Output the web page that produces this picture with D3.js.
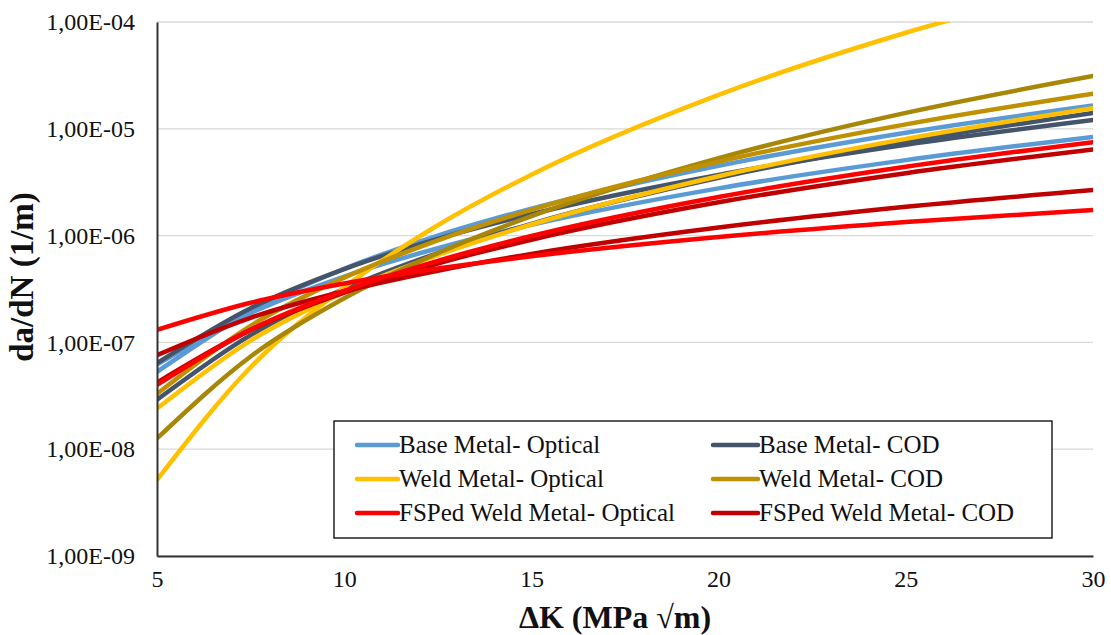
<!DOCTYPE html>
<html>
<head>
<meta charset="utf-8">
<script src="https://cdn.jsdelivr.net/npm/d3@7"></script>
<style>
  html, body { margin: 0; padding: 0; background: #fff; }
  svg { display: block; }
  text { font-family: "Times New Roman", "Liberation Serif", serif; fill: #111; }
</style>
</head>
<body>
<svg id="chart" width="1111" height="635"></svg>
<script>
// Stress-intensity range ΔK (MPa √m) at which each curve is sampled
const deltaK = [5, 7.5, 10, 12.5, 15, 20, 25, 30];

// Crack growth rate da/dN (1/m), two fits per material / measuring method
const baseOptical1  = [5.3e-8, 1.94e-7, 4.89e-7, 1.00e-6, 1.79e-6, 4.50e-6, 9.20e-6, 1.65e-5];
const baseOptical2  = [6.2e-8, 1.88e-7, 4.14e-7, 7.62e-7, 1.26e-6, 2.77e-6, 5.09e-6, 8.40e-6];
const baseCOD1      = [6.4e-8, 2.09e-7, 4.86e-7, 9.33e-7, 1.59e-6, 3.70e-6, 7.10e-6, 1.21e-5];
const baseCOD2      = [2.9e-8, 1.17e-7, 3.17e-7, 6.86e-7, 1.29e-6, 3.48e-6, 7.52e-6, 1.41e-5];
const weldOptical1  = [5.15e-9, 5.85e-8, 3.27e-7, 1.25e-6, 3.72e-6, 2.08e-5, 7.93e-5, 2.36e-4];
const weldOptical2  = [2.4e-8, 1.04e-7, 2.94e-7, 6.58e-7, 1.27e-6, 3.60e-6, 8.05e-6, 1.56e-5];
const weldCOD1      = [1.26e-8, 7.38e-8, 2.59e-7, 6.85e-7, 1.52e-6, 5.32e-6, 1.41e-5, 3.12e-5];
const weldCOD2      = [3.3e-8, 1.43e-7, 4.04e-7, 9.02e-7, 1.74e-6, 4.92e-6, 1.10e-5, 2.13e-5];
const fspCOD1       = [4.2e-8, 1.31e-7, 2.93e-7, 5.48e-7, 9.15e-7, 2.05e-6, 3.84e-6, 6.40e-6];
const fspCOD2       = [7.6e-8, 1.70e-7, 3.01e-7, 4.69e-7, 6.74e-7, 1.19e-6, 1.86e-6, 2.67e-6];
const fspOptical1   = [4.0e-8, 1.31e-7, 3.03e-7, 5.81e-7, 9.91e-7, 2.30e-6, 4.41e-6, 7.50e-6];
const fspOptical2   = [1.31e-7, 2.35e-7, 3.56e-7, 4.92e-7, 6.40e-7, 9.70e-7, 1.34e-6, 1.74e-6];

// Legend entries (in legend order) and axis ticks
const legendLabels = [
  "Base Metal- Optical", "Base Metal- COD",
  "Weld Metal- Optical", "Weld Metal- COD",
  "FSPed Weld Metal- Optical", "FSPed Weld Metal- COD"
];
const xTicks = [5, 10, 15, 20, 25, 30];
const yTicks = [1e-9, 1e-8, 1e-7, 1e-6, 1e-5, 1e-4];

const colors = {
  baseOptical: "#5B9BD5",
  baseCOD: "#44546A",
  weldOptical: "#FFC000",
  weldCOD: "#BF9000",
  weldCODDark: "#A88708",
  fspOptical: "#FF0000",
  fspCOD: "#C00000"
};

const curves = [
  { values: baseOptical1, color: colors.baseOptical },
  { values: baseOptical2, color: colors.baseOptical },
  { values: baseCOD1, color: colors.baseCOD },
  { values: baseCOD2, color: colors.baseCOD },
  { values: weldOptical1, color: colors.weldOptical },
  { values: weldOptical2, color: colors.weldOptical },
  { values: weldCOD1, color: colors.weldCODDark },
  { values: weldCOD2, color: colors.weldCOD },
  { values: fspCOD1, color: colors.fspCOD },
  { values: fspCOD2, color: colors.fspCOD },
  { values: fspOptical1, color: colors.fspOptical },
  { values: fspOptical2, color: colors.fspOptical }
];
const legendColors = [colors.baseOptical, colors.baseCOD, colors.weldOptical,
                      colors.weldCOD, colors.fspOptical, colors.fspCOD];

const serif = '"Times New Roman", "Liberation Serif", serif';
const svg = d3.select("#chart");
const plot = { left: 157, right: 1093, top: 22, bottom: 556 };

const x = d3.scaleLinear().domain([5, 30]).range([plot.left, plot.right]);
const y = d3.scaleLog().domain([1e-9, 1e-4]).range([plot.bottom, plot.top]);

const expFormat = v => {
  const e = Math.round(Math.log10(v));
  return "1,00E" + (e < 0 ? "-" : "+") + String(Math.abs(e)).padStart(2, "0");
};

// horizontal gridlines
svg.append("g")
  .selectAll("line")
  .data(yTicks)
  .join("line")
  .attr("x1", plot.left).attr("x2", plot.right)
  .attr("y1", d => y(d)).attr("y2", d => y(d))
  .attr("stroke", "#d9d9d9").attr("stroke-width", 1.3);

// clip region for the curves
svg.append("clipPath").attr("id", "plotClip")
  .append("rect")
  .attr("x", plot.left).attr("y", plot.top)
  .attr("width", plot.right - plot.left).attr("height", plot.bottom - plot.top);

const line = d3.line()
  .x((d, i) => x(deltaK[i]))
  .y(d => y(d))
  .curve(d3.curveMonotoneX);

svg.append("g").attr("clip-path", "url(#plotClip)")
  .selectAll("path")
  .data(curves)
  .join("path")
  .attr("d", d => line(d.values))
  .attr("fill", "none")
  .attr("stroke", d => d.color)
  .attr("stroke-width", 4.5)
  .attr("stroke-linecap", "round")
  .attr("stroke-linejoin", "round");

// y axis
const yAxis = svg.append("g")
  .attr("transform", `translate(${plot.left},0)`)
  .attr("font-family", serif)
  .call(d3.axisLeft(y).tickValues(yTicks).tickFormat(expFormat).tickSize(0).tickPadding(22));
yAxis.select(".domain").attr("stroke", "#333").attr("stroke-width", 2);
yAxis.selectAll("text")
  .attr("font-size", 24)
  .attr("fill", "#111");

// x axis
const xAxis = svg.append("g")
  .attr("transform", `translate(0,${plot.bottom})`)
  .attr("font-family", serif)
  .call(d3.axisBottom(x).tickValues(xTicks).tickFormat(d3.format("d")).tickSize(0).tickPadding(14));
xAxis.select(".domain").attr("stroke", "#333").attr("stroke-width", 2);
xAxis.selectAll("text")
  .attr("font-size", 24)
  .attr("fill", "#111");

// axis titles
svg.append("text")
  .attr("x", 615).attr("y", 628)
  .attr("text-anchor", "middle")
  .attr("font-size", 32).attr("font-weight", "bold")
  .text("ΔK (MPa √m)");

svg.append("text")
  .attr("transform", "translate(33,277) rotate(-90)")
  .attr("text-anchor", "middle")
  .attr("font-size", 33).attr("font-weight", "bold")
  .text("da/dN (1/m)");

// legend
const legend = svg.append("g");
legend.append("rect")
  .attr("x", 334).attr("y", 421).attr("width", 718).attr("height", 117)
  .attr("fill", "#fff").attr("stroke", "#000").attr("stroke-width", 1.3);

const legendCols = [{ x1: 357, x2: 398, tx: 399 }, { x1: 713, x2: 758, tx: 759 }];
const legendRows = [445, 479, 513];

const items = legend.selectAll("g.item")
  .data(legendLabels)
  .join("g").attr("class", "item")
  .attr("transform", (d, i) => `translate(0,${legendRows[Math.floor(i / 2)]})`);

items.append("line")
  .attr("x1", (d, i) => legendCols[i % 2].x1)
  .attr("x2", (d, i) => legendCols[i % 2].x2)
  .attr("stroke", (d, i) => legendColors[i])
  .attr("stroke-width", 4.5)
  .attr("stroke-linecap", "round");

items.append("text")
  .attr("x", (d, i) => legendCols[i % 2].tx)
  .attr("dy", "0.33em")
  .attr("font-size", 25)
  .text(d => d);
</script>
</body>
</html>
